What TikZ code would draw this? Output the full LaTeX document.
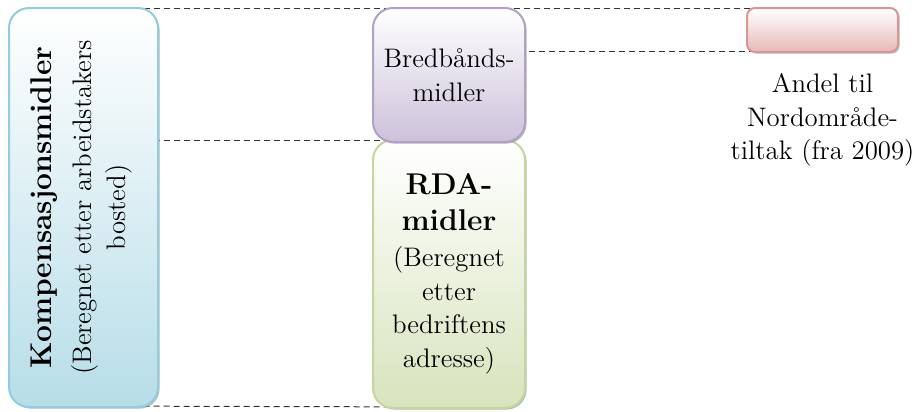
\documentclass[tikz,border=0pt]{standalone}
\usetikzlibrary{positioning,shadows,backgrounds}
\definecolor{kompblaa}{HTML}{B7DDE8}
\definecolor{kompkant}{HTML}{93CDDD}
\definecolor{bredlilla}{HTML}{CCC1DA}
\definecolor{bredkant}{HTML}{B2A1C7}
\definecolor{rdagronn}{HTML}{D7E4BD}
\definecolor{rdakant}{HTML}{C3D69B}
\definecolor{andelrosa}{HTML}{E6B9B8}
\definecolor{andelkant}{HTML}{D99694}
\begin{document}
\begin{tikzpicture}[x=.5pt, y=-.5pt,
	boks/.style={rounded corners=10pt, line width=1pt, inner sep=0pt, top color=white,
		drop shadow={shadow xshift=.8pt, shadow yshift=-.8pt, fill=black!45, opacity=.6}},
	stiplet/.style={dash pattern=on 3pt off 2pt, line width=.5pt, black!80},
	tekst/.style={align=center, font=\fontsize{13.4}{16.9}\selectfont}]
	\useasboundingbox (0,0) rectangle (915,412);
	%boxes
	\node[boks, draw=kompkant, bottom color=kompblaa, minimum width=74.5pt, minimum height=199.5pt] (komp) at (83.5,207.5) {};
	\node[tekst, rotate=90] (komptekst) at ([xshift=-1pt]komp.center) {{\bfseries\fontsize{15}{18}\selectfont Kompensasjonsmidler}\\[3pt]
		(Beregnet etter arbeidstakers\\bosted)};
	\node[boks, tekst, draw=rdakant, bottom color=rdagronn, minimum width=76pt, minimum height=134pt] (rda) at (449,274)
	{{\bfseries\fontsize{15}{18}\selectfont RDA-}\\[1pt]{\bfseries\fontsize{15}{18}\selectfont midler}\\[1pt]
		(Beregnet\\etter\\bedriftens\\adresse)};
	\node[boks, tekst, draw=bredkant, bottom color=bredlilla, minimum width=76pt, minimum height=67pt] (bredbaand) at (449,75) {Bredbånds-\\midler};
	\node[boks, rounded corners=4pt, draw=andelkant, bottom color=andelrosa, minimum width=75.5pt, minimum height=22pt] (andel) at (822.5,30) {};
	%labels
	\node[tekst, below=6.5pt of andel] (andeltekst) {Andel til\\Nordområde-\\tiltak (fra 2009)};
	%lines
	\begin{scope}[on background layer]
		\draw[stiplet] ([yshift=-.75pt]komp.north) -- ([yshift=-.75pt]andel.north);
		\draw[stiplet] ([yshift=.75pt]bredbaand.center |- andel.south) -- ([yshift=.75pt]andel.south);
		\draw[stiplet] ([yshift=1.5pt]komp.center |- bredbaand.south) -- ([yshift=1.5pt]bredbaand.south);
		\draw[stiplet] ([yshift=1pt]komp.south) -- ([yshift=1pt]rda.south);
	\end{scope}
\end{tikzpicture}
\end{document}
